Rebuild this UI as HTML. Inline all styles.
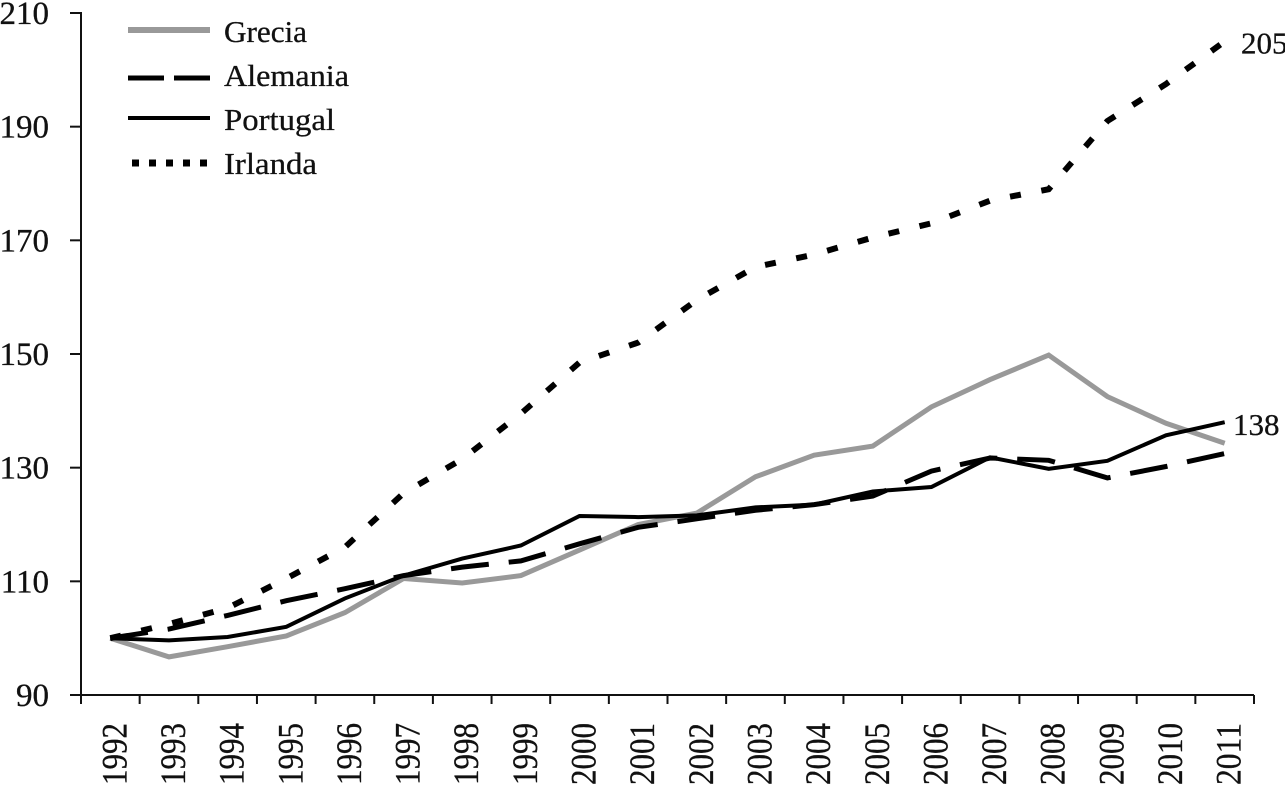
<!DOCTYPE html>
<html lang="es">
<head>
<meta charset="utf-8">
<title>Grecia, Alemania, Portugal, Irlanda 1992-2011</title>
<style>
html,body{margin:0;padding:0;background:#fff;}
svg{display:block;}
text{font-family:"Liberation Serif",serif;fill:#111;}
</style>
</head>
<body>
<svg id="chart" xmlns="http://www.w3.org/2000/svg" width="1285" height="789" viewBox="0 0 1285 789">
  <g id="grid-axes"></g>
  <g id="series"></g>
  <g id="legend"></g>
  <g id="labels"></g>
</svg>
<script>
const years = ["1992","1993","1994","1995","1996","1997","1998","1999","2000","2001","2002","2003","2004","2005","2006","2007","2008","2009","2010","2011"];
const yTicks = [90,110,130,150,170,190,210];
const grecia = [100,96.7,98.5,100.4,104.5,110.5,109.7,111,115.5,120,122,128.4,132.2,133.8,140.7,145.5,149.8,142.5,137.8,134.3];
const alemania = [100,101.6,104,106.6,108.7,111,112.5,113.6,116.6,119.5,121,122.5,123.5,125,129.4,131.7,131.3,128.2,130.2,132.5];
const portugal = [100,99.6,100.2,102,107,111,114,116.3,121.5,121.3,121.6,123,123.5,125.8,126.6,131.8,129.8,131.2,135.7,138];
const irlanda = [100,102.5,105.3,110.5,116,125.5,131.5,139.5,148.5,152,159.5,165.3,167.5,170.5,173,177,179,191,197.5,205];
const irlandaEndLabel = "205";
const portugalEndLabel = "138";

const NS = "http://www.w3.org/2000/svg";
const left = 81, right = 1254, top0 = 13, bottom = 695;
const yMin = 90, yMax = 210;
const x = i => left + (right - left) * (i + 0.5) / years.length;
const xEdge = i => left + (right - left) * i / years.length;
const y = v => bottom - (v - yMin) * (bottom - top0) / (yMax - yMin);

function make(tag, attrs, parent, txt) {
  const el = document.createElementNS(NS, tag);
  for (const k in attrs) el.setAttribute(k, attrs[k]);
  if (txt !== undefined) el.textContent = txt;
  parent.appendChild(el);
  return el;
}
const axes = document.getElementById("grid-axes");
const seriesG = document.getElementById("series");
const legendG = document.getElementById("legend");
const labelsG = document.getElementById("labels");
const axisStyle = {stroke:"#111","stroke-width":2,fill:"none"};
const ink = {stroke:"#111","stroke-width":0.3};

const yAxis = make("line", Object.assign({x1:left,x2:left,y1:top0-1,y2:bottom+9}, axisStyle), axes);


const xAxis = make("line", Object.assign({x1:left-11,x2:right,y1:bottom,y2:bottom}, axisStyle), axes);



yTicks.forEach(v => {
  const t = make("line", Object.assign({x1:left-11,x2:left,y1:y(v),y2:y(v)}, axisStyle), axes);
  
  
  const l = make("text", Object.assign({x:49,y:y(v)+11,"text-anchor":"end","font-size":33}, ink), axes, String(v));
  
  
});
for (let i = 0; i <= years.length; i++) {
  const t = make("line", Object.assign({x1:xEdge(i),x2:xEdge(i),y1:bottom,y2:bottom+9}, axisStyle), axes);
  
  
}
years.forEach((yr, i) => {
  const px = x(i) + 16, py = 723;
  const l = make("text", Object.assign({x:px,y:py,"text-anchor":"end","font-size":36,textLength:62,lengthAdjust:"spacingAndGlyphs",transform:"rotate(-90 "+px+" "+py+")"}, ink), axes, yr);
  
  
});

function drawSeries(values, style) {
  const pts = values.map((v, i) => x(i).toFixed(1) + "," + y(v).toFixed(1)).join(" ");
  return make("polyline", Object.assign({points:pts,fill:"none","stroke-linejoin":"miter"}, style), seriesG);
}
const styleGrecia = {stroke:"#999","stroke-width":5};
const styleAlemania = {stroke:"#000","stroke-width":5,"stroke-dasharray":"38 20"};
const stylePortugal = {stroke:"#000","stroke-width":4};
const styleIrlanda = {stroke:"#000","stroke-width":6,"stroke-dasharray":"11 20.85"};

const lineGrecia = drawSeries(grecia, styleGrecia);


const lineIrlanda = drawSeries(irlanda, styleIrlanda);


const lineAlemania = drawSeries(alemania, styleAlemania);


const linePortugal = drawSeries(portugal, stylePortugal);



function legendEntry(name, ly, ty, w, style) {
  const g = make("g", {}, legendG);
  make("line", Object.assign({x1:128,x2:210,y1:ly,y2:ly}, style), g);
  make("text", Object.assign({x:224,y:ty,"font-size":31,textLength:w,lengthAdjust:"spacingAndGlyphs"}, ink), g, name);
  return g;
}
const legGrecia = legendEntry("Grecia", 30, 42, 83, Object.assign({}, styleGrecia, {"stroke-width":6}));


const legAlemania = legendEntry("Alemania", 78, 86, 125, Object.assign({}, styleAlemania, {"stroke-dasharray":"36 10"}));


const legPortugal = legendEntry("Portugal", 118, 130, 111, Object.assign({}, stylePortugal, {"stroke-width":4}));


const legIrlanda = legendEntry("Irlanda", 163, 174, 93, Object.assign({}, styleIrlanda, {"stroke-width":7,"stroke-dasharray":"7 10","stroke-dashoffset":"-4"}));



const endA = make("text", Object.assign({x:1241,y:y(205)+12,"font-size":31}, ink), labelsG, irlandaEndLabel);


const endB = make("text", Object.assign({x:1233,y:y(138)+13,"font-size":31}, ink), labelsG, portugalEndLabel);


</script>
</body>
</html>
